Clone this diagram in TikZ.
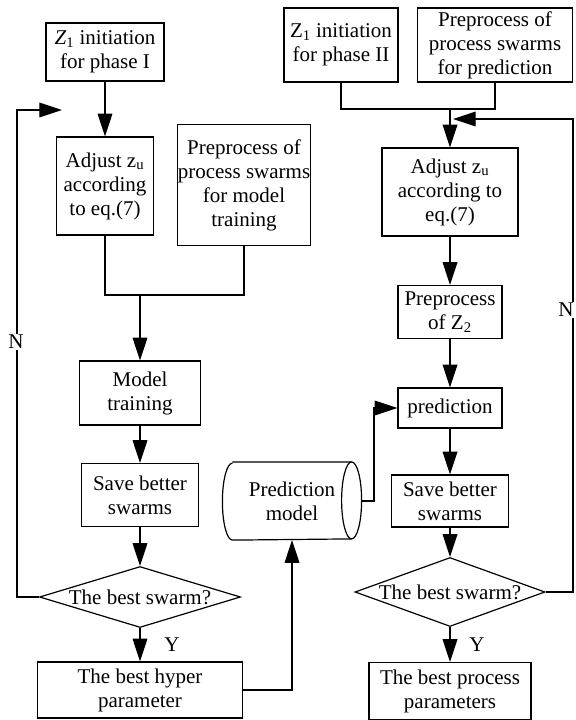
\documentclass[tikz,border=0pt]{standalone}
\usepackage{fontspec}
\setmainfont{Liberation Serif}
\usepackage{tikz}
\usetikzlibrary{arrows.meta,shapes.geometric}
\tikzstyle{block}=[draw, rectangle, align=center, inner sep=0pt]
\tikzstyle{decide}=[draw, diamond, aspect=3.3, inner sep=0pt, align=center]
\tikzstyle{store}=[rectangle, inner sep=0pt, align=center]
\tikzstyle{lbl}=[fill=white, inner sep=1pt]

\begin{document}
\begin{tikzpicture}[x=0.75pt, y=-0.75pt, line width=0.9pt,
                    >={Triangle[length=17pt,width=11pt]},
                    font=\fontsize{15.75}{18}\selectfont]
                        \useasboundingbox (0,0) rectangle (575,720);
                        % phase I
                        \node [block, minimum width=88.5pt, minimum height=43.5pt] (init1) at (105,52) {\textit{Z}\textsubscript{1} initiation\\for phase I};
                        \node [block, minimum width=72.75pt, minimum height=73.5pt] (adjust1) at (105,186) {Adjust z\textsubscript{u}\\according\\to eq.(7)};
                        \node [block, minimum width=99pt, minimum height=90.75pt] (prep1) at (244,185) {Preprocess of\\process swarms\\for model\\training};
                        \node [block, minimum width=90.75pt, minimum height=48pt] (train) at (140,393) {Model\\training};
                        \node [block, minimum width=87.75pt, minimum height=47.25pt] (save1) at (140,495) {Save better\\swarms};
                        \node [decide, minimum width=150.75pt, minimum height=45.75pt] (best1) at (140,597) {The best swarm?};
                        \node [block, minimum width=153.75pt, minimum height=42pt] (hyper) at (140,690) {The best hyper\\parameter};
                        \node [store, minimum width=103.5pt, minimum height=57.75pt] (model) at (292,501) {Prediction\\model};
                        % cylinder outline of the model store
                        \draw ([xshift=7.5pt]model.north west) -- ([xshift=-7.5pt]model.north east)
                              arc[start angle=90, end angle=-90, x radius=7.5pt, y radius=28.875pt]
                              -- ([xshift=7.5pt]model.south west)
                              arc[start angle=270, end angle=90, x radius=7.5pt, y radius=28.875pt];
                        \draw ([xshift=-7.5pt]model.north east)
                              arc[start angle=90, end angle=270, x radius=7.5pt, y radius=28.875pt];
                        % phase II
                        \node [block, minimum width=85.5pt, minimum height=55.5pt] (init2) at (341,45) {Z\textsubscript{1} initiation\\for phase II};
                        \node [block, minimum width=116.25pt, minimum height=55.5pt] (prep2) at (495,45) {Preprocess of\\process swarms\\for prediction};
                        \node [block, minimum width=102pt, minimum height=66pt] (adjust2) at (450,192) {Adjust z\textsubscript{u}\\according to\\eq.(7)};
                        \node [block, minimum width=78pt, minimum height=39.75pt] (prep3) at (450,312) {Preprocess\\of Z\textsubscript{2}};
                        \node [block, minimum width=78pt, minimum height=30pt] (predict) at (450,408) {prediction};
                        \node [block, minimum width=87.75pt, minimum height=39pt] (save2) at (450,501) {Save better\\swarms};
                        \node [decide, aspect=2.75, minimum width=142.5pt, minimum height=51.75pt] (best2) at (450,592) {The best swarm?};
                        \node [block, minimum width=121.5pt, minimum height=42.75pt] (process) at (450,691) {The best process\\parameters};
                        % joints and free ends
                        \coordinate (join1) at (140,295);
                        \coordinate (loop1) at (17,110);
                        \coordinate (tip1) at (62,110);
                        \coordinate (join2) at (450,109);
                        \coordinate (loop2) at (573,119);
                        \coordinate (tip2) at (453,119);
                        \coordinate (bend) at (374,408);
                        % phase I arrows
                        \path[->] (init1) edge (adjust1);
                        \draw (adjust1.south) |- (join1) -| (prep1.south);
                        \path[->] (join1) edge (train);
                        \path[->] (train) edge (save1);
                        \path[->] (save1) edge (best1);
                        \path[->] (best1) edge (hyper);
                        \draw[->] (best1.west) -| (loop1) -- (tip1);
                        \draw[->] (hyper.east) -| (model.south);
                        \draw[->] (model.east) -| (bend) -- (predict.west);
                        % phase II arrows
                        \draw (init2.south) |- (join2) -| (prep2.south);
                        \path[->] (join2) edge (adjust2);
                        \path[->] (adjust2) edge (prep3);
                        \path[->] (prep3) edge (predict);
                        \path[->] (predict) edge (save2);
                        \path[->] (save2) edge (best2);
                        \path[->] (best2) edge (process);
                        \draw[->] (best2.east) -| (loop2) -- (tip2);
                        % labels
                        \node [lbl] (no1) at (16,342) {N};
                        \node [lbl] (no2) at (566,310) {N};
                        \node (yes1) at (172,645) {Y};
                        \node (yes2) at (477,645) {Y};
                    \end{tikzpicture}
\end{document}
